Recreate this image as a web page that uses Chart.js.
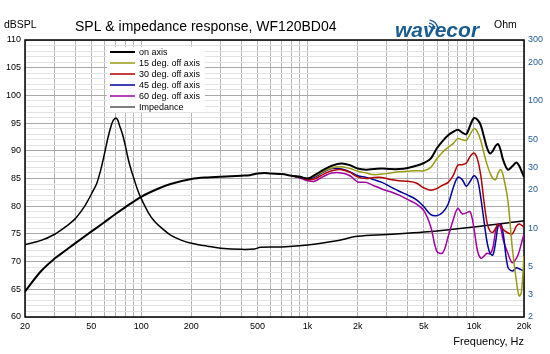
<!DOCTYPE html>
<html>
<head>
<meta charset="utf-8">
<title>SPL & impedance response, WF120BD04</title>
<script src="https://cdn.jsdelivr.net/npm/chart.js@4/dist/chart.umd.min.js"></script>
<style>
  html, body { margin: 0; padding: 0; background: #fff; }
  #chart { display: block; }
</style>
</head>
<body>
<canvas id="chart" width="550" height="354"></canvas>
<script>
// Valores (Hz, dB SPL, Ohm)
const freqLF = [20, 25, 30, 35, 40, 50, 60, 70, 80, 100, 125, 150, 200, 250, 300, 400, 450, 500, 550, 600, 700];
const onAxisLF = [64.6, 68.3, 70.5, 72.0, 73.3, 75.4, 77.1, 78.6, 79.8, 81.7, 83.1, 84.0, 84.9, 85.2, 85.3, 85.5, 85.6, 85.9, 86.0, 85.9, 85.8];

const freqHF = [800, 900, 1000, 1100, 1250, 1400, 1600, 1800, 2000,
  2250, 2500, 2800, 3150, 3550, 4000, 4500, 5000,
  5500, 6000, 6500, 7000, 7500, 8000, 8500, 9000, 9500, 10000,
  10500, 11000, 11500, 12000, 12500, 13000, 13500, 14000, 14500, 15000,
  16000, 17000, 18000, 18700, 19300, 20000];
const onAxisHF = [85.5, 85.3, 85.0, 85.6, 86.6, 87.3, 87.7, 87.4, 86.8,
  86.6, 86.7, 86.8, 86.7, 86.7, 86.9, 87.3, 87.8,
  88.6, 90.5, 91.8, 92.8, 93.4, 93.8, 93.3, 93.0, 94.6, 95.9,
  95.6, 94.6, 92.5, 90.5, 89.5, 90.0, 90.9, 91.2, 90.0, 88.3,
  86.6, 87.2, 87.9, 87.3, 86.4, 85.3];
const off15 = [85.5, 85.3, 85.0, 85.4, 86.3, 86.9, 87.1, 86.8, 86.3,
  86.0, 85.7, 85.8, 86.0, 86.2, 86.3, 86.4, 86.4,
  87.0, 88.6, 89.8, 90.6, 91.3, 92.2, 92.0, 91.9, 93.0, 94.0,
  93.4, 91.8, 89.5, 87.5, 86.0, 85.0, 84.8, 86.0, 86.6, 85.5,
  81.0, 72.5, 66.5, 63.8, 64.5, 71.0];
const off30 = [85.5, 85.2, 84.8, 84.9, 85.8, 86.4, 86.6, 86.1, 85.3,
  85.0, 85.2, 85.2, 84.8, 84.6, 84.5, 84.2, 83.3,
  82.9, 83.2, 83.8, 84.3, 85.5, 87.4, 87.5, 87.8, 89.0, 89.6,
  88.5, 85.5, 80.8, 77.0, 75.5, 75.3, 76.0, 76.8, 76.5, 75.8,
  75.2, 75.0, 76.4, 76.8, 76.6, 76.2];
const off45 = [85.5, 85.2, 84.9, 85.2, 86.2, 86.8, 86.7, 86.2, 85.5,
  85.2, 84.8, 84.3, 83.5, 82.7, 82.0, 81.2, 79.9,
  78.5, 78.3, 78.9, 80.4, 83.3, 85.2, 84.8, 83.6, 84.5, 85.5,
  84.8, 81.5, 77.3, 73.5, 71.5, 71.2, 73.5, 76.5, 76.8, 75.0,
  69.0, 68.3, 68.9, 68.7, 68.5, 68.3];
const off60 = [85.5, 85.1, 84.6, 84.5, 85.4, 86.0, 86.0, 85.5, 84.4,
  84.3, 83.7, 83.1, 82.6, 82.0, 81.2, 80.4, 79.2,
  76.3, 71.8, 71.6, 74.5, 77.5, 79.6, 78.6, 78.8, 79.0, 76.0,
  72.0, 70.6, 71.0, 71.5, 71.4, 72.5, 75.5, 76.8, 76.0, 73.9,
  71.5, 69.8, 70.6, 71.8, 73.3, 75.0];

const impFreq = [20, 25, 30, 35, 40, 45, 48, 51, 54, 57, 60, 63, 66, 68, 70, 72, 74, 77, 80, 83, 86, 90, 95, 100,
  110, 120, 135, 150, 175, 200, 250, 300, 400, 480, 520, 700, 1000, 1500, 2000, 3000, 5000, 10000, 20000];
const impOhm = [7.4, 8.0, 8.9, 10.2, 11.8, 14.4, 16.6, 19.3, 22.4, 28.5, 38.0, 51.0, 64.0, 70.5, 73.0, 71.0, 64.0, 55.0, 45.0, 36.0, 30.0, 24.8, 20.0, 17.0,
  13.3, 11.3, 9.8, 8.8, 8.0, 7.6, 7.2, 6.95, 6.8, 6.85, 7.05, 7.1, 7.35, 7.95, 8.6, 8.9, 9.3, 10.2, 11.4];

const seriesNames = ['on axis', '15 deg. off axis', '30 deg. off axis', '45 deg. off axis', '60 deg. off axis', 'Impedance'];
const seriesColors = ['#000000', '#9a9a14', '#b40000', '#00009c', '#a000a0', '#000000'];

const xLabelValues = [20, 50, 100, 200, 500, 1000, 2000, 5000, 10000, 20000];
const xLabelText = ['20', '50', '100', '200', '500', '1k', '2k', '5k', '10k', '20k'];
const ohmTicks = [2, 3, 5, 10, 20, 30, 50, 100, 200, 300];

const FONT = 'Arial, "Liberation Sans", sans-serif';

function pts(xs, ys) {
  return xs.map((x, i) => ({ x: x, y: ys[i] }));
}

// Líneas de rejilla en 1..9 por década
const xGrid = [];
[10, 100, 1000, 10000].forEach(d => {
  for (let m = 1; m <= 9; m++) {
    const v = m * d;
    if (v >= 20 && v <= 20000) xGrid.push(v);
  }
});

const decorPlugin = {
  id: 'decor',
  beforeDatasetsDraw(chart) {
    const { ctx, chartArea: a } = chart;
    ctx.save();
    ctx.strokeStyle = '#000';
    ctx.lineWidth = 1.5;
    ctx.strokeRect(a.left, a.top, a.right - a.left, a.bottom - a.top);
    ctx.restore();
  },
  afterDatasetsDraw(chart) {
    const { ctx } = chart;
    ctx.save();
    // leyenda dentro del área del gráfico
    ctx.fillStyle = '#fff';
    ctx.fillRect(107, 47, 98, 65);
    ctx.font = '9px ' + FONT;
    ctx.textBaseline = 'middle';
    seriesNames.forEach((name, i) => {
      const y = 52 + i * 11;
      ctx.strokeStyle = i === 5 ? '#555' : seriesColors[i];
      ctx.lineWidth = i === 0 ? 2 : 1.5;
      ctx.beginPath();
      ctx.moveTo(110, y);
      ctx.lineTo(135, y);
      ctx.stroke();
      ctx.fillStyle = '#000';
      ctx.fillText(name, 139, y + 0.5);
    });
    ctx.restore();
  },
  afterDraw(chart) {
    const { ctx } = chart;
    ctx.save();
    ctx.fillStyle = '#000';
    ctx.textBaseline = 'alphabetic';
    ctx.font = '14px ' + FONT;
    ctx.fillText('SPL & impedance response, WF120BD04', 75, 31);
    ctx.font = '10.5px ' + FONT;
    ctx.fillText('dBSPL', 4, 28);
    ctx.fillText('Ohm', 494, 28);

    // logotipo
    ctx.fillStyle = '#1b5d8e';
    ctx.font = 'italic bold 21px ' + FONT;
    ctx.fillText('wavecor', 395, 37);
    ctx.strokeStyle = '#1b5d8e';
    ctx.lineWidth = 1.4;
    [4, 7, 10].forEach(r => {
      ctx.beginPath();
      ctx.arc(428, 30, r, -Math.PI * 0.45, -Math.PI * 0.05);
      ctx.stroke();
    });
    ctx.restore();
  }
};

const ctx = document.getElementById('chart');

new Chart(ctx, {
  type: 'line',
  data: {
    datasets: [
      { label: seriesNames[0], data: pts(freqLF, onAxisLF).concat(pts(freqHF, onAxisHF)), borderColor: seriesColors[0], borderWidth: 2, yAxisID: 'y' },
      { label: seriesNames[1], data: pts(freqHF, off15), borderColor: seriesColors[1], borderWidth: 1.5, yAxisID: 'y' },
      { label: seriesNames[2], data: pts(freqHF, off30), borderColor: seriesColors[2], borderWidth: 1.5, yAxisID: 'y' },
      { label: seriesNames[3], data: pts(freqHF, off45), borderColor: seriesColors[3], borderWidth: 1.5, yAxisID: 'y' },
      { label: seriesNames[4], data: pts(freqHF, off60), borderColor: seriesColors[4], borderWidth: 1.5, yAxisID: 'y' },
      { label: seriesNames[5], data: pts(impFreq, impOhm), borderColor: seriesColors[5], borderWidth: 1.5, yAxisID: 'y1' }
    ]
  },
  options: {
    responsive: false,
    animation: false,
    devicePixelRatio: 1,
    layout: { padding: { top: 40, left: 0, right: 0, bottom: 0 } },
    elements: {
      point: { radius: 0 },
      line: { tension: 0.35, fill: false }
    },
    plugins: {
      legend: { display: false },
      tooltip: { enabled: false }
    },
    scales: {
      x: {
        type: 'logarithmic',
        min: 20,
        max: 20000,
        afterFit: s => { s.height = 37; },
        afterBuildTicks: s => { s.ticks = xGrid.map(v => ({ value: v })); },
        ticks: {
          autoSkip: false,
          maxRotation: 0,
          padding: 4,
          color: '#000',
          font: { family: FONT, size: 9 },
          callback: v => {
            const i = xLabelValues.indexOf(v);
            return i >= 0 ? xLabelText[i] : '';
          }
        },
        grid: { color: '#b4b4b4', lineWidth: 1, drawTicks: false },
        border: { display: false },
        title: {
          display: true,
          text: 'Frequency, Hz',
          align: 'end',
          color: '#000',
          font: { family: FONT, size: 11 },
          padding: { top: 0, bottom: 5 }
        }
      },
      y: {
        position: 'left',
        min: 60,
        max: 110,
        afterFit: s => { s.width = 25; },
        ticks: {
          stepSize: 1,
          autoSkip: false,
          padding: 4,
          color: '#000',
          font: { family: FONT, size: 9 },
          callback: v => (v % 5 === 0 ? String(v) : '')
        },
        grid: {
          drawTicks: false,
          color: c => (c.tick && c.tick.value % 5 === 0 ? '#a8a8a8' : '#e2e2e2')
        },
        border: { display: false }
      },
      y1: {
        type: 'logarithmic',
        position: 'right',
        min: 2,
        max: 300,
        afterFit: s => { s.width = 26; },
        afterBuildTicks: s => { s.ticks = ohmTicks.map(v => ({ value: v })); },
        ticks: {
          autoSkip: false,
          padding: 4,
          color: '#1f5b96',
          font: { family: FONT, size: 9 },
          callback: v => String(v)
        },
        grid: { drawOnChartArea: false, drawTicks: false },
        border: { display: false }
      }
    }
  },
  plugins: [decorPlugin]
});
</script>
</body>
</html>
